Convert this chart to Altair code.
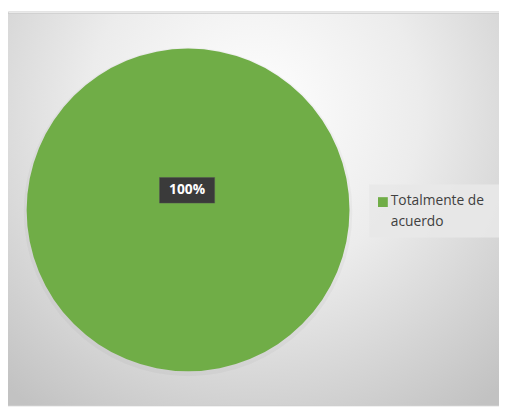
import altair as alt
import pandas as pd

categories = ["Totalmente de acuerdo"]
values = [100]
labels = ["100%"]
colors = ["#70AD47"]
legend_lines = [["Totalmente de", "acuerdo"]]

df = pd.DataFrame({"categoria": categories, "valor": values, "etiqueta": labels})
df_leg = pd.DataFrame({"categoria": categories, "texto": legend_lines})

W, H = 499, 399
cx, cy, R = 183, 202, 164

bg = alt.Chart(pd.DataFrame({"a": [0]})).mark_rect(
    fill={
        "gradient": "radial",
        "x1": 0.5, "y1": 0.3, "r1": 0.0,
        "x2": 0.5, "y2": 0.3, "r2": 0.75,
        "stops": [
            {"offset": 0.0, "color": "#ffffff"},
            {"offset": 0.45, "color": "#ececec"},
            {"offset": 1.0, "color": "#c2c2c2"},
        ],
    },
    stroke="#c8c8c8",
    strokeWidth=1,
).encode(x=alt.value(-1), x2=alt.value(W + 2), y=alt.value(2), y2=alt.value(H + 2))

shadow = alt.Chart(df).mark_arc(
    radius=R + 3, fill="#000000", opacity=0.03
).encode(
    theta=alt.Theta("valor:Q", stack=True),
    x=alt.value(cx), y=alt.value(cy + 2),
)

pie = alt.Chart(df).mark_arc(radius=R).encode(
    theta=alt.Theta("valor:Q", stack=True),
    color=alt.Color(
        "categoria:N",
        scale=alt.Scale(domain=categories, range=colors),
        legend=None,
    ),
    x=alt.value(cx), y=alt.value(cy),
)

box = alt.Chart(df).mark_rect(fill="#3a3a3a", stroke="#555555", strokeWidth=0.5).encode(
    x=alt.value(154), x2=alt.value(210), y=alt.value(169), y2=alt.value(195)
)

txt = alt.Chart(df).mark_text(
    font="Open Sans", fontSize=14, fontWeight="bold", color="#ffffff"
).encode(text="etiqueta:N", x=alt.value(182), y=alt.value(182))

leg_bg = alt.Chart(df_leg).mark_rect(fill="#e8e8e8", opacity=0.9).encode(
    x=alt.value(367), x2=alt.value(W + 2), y=alt.value(176), y2=alt.value(230)
)

leg_sym = alt.Chart(df_leg).mark_square(size=100, opacity=1).encode(
    x=alt.value(381), y=alt.value(194),
    color=alt.Color("categoria:N", scale=alt.Scale(domain=categories, range=colors), legend=None),
)

leg_txt = alt.Chart(df_leg).mark_text(
    font="Open Sans", fontSize=14, color="#404040", align="left", baseline="middle",
    lineHeight=21,
).encode(text="texto", x=alt.value(389), y=alt.value(193))

chart = alt.layer(bg, shadow, pie, box, txt, leg_bg, leg_sym, leg_txt).properties(
    width=W, height=H, padding=0, autosize=alt.AutoSizeParams(type="none")
).configure_view(stroke=None).configure(background="#ffffff")

chart.save("out.html", embed_options={"renderer": "svg", "actions": False})
